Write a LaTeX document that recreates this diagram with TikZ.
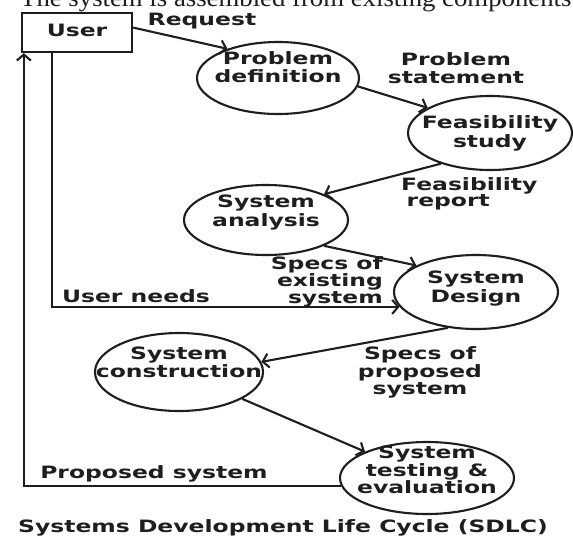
\documentclass[tikz,border=0pt]{standalone}
\usepackage{fontspec}
\usepackage{graphicx}
\setmainfont{Liberation Serif}
\newfontfamily\dvfont{DejaVu Sans}
\usetikzlibrary{shapes.geometric,arrows.meta,calc}
\definecolor{ink}{HTML}{1E1E1E}
% label helpers: #1 = baselineskip, #2 = column alignment, #3 = text
\newcommand{\dtxt}[3]{{\dvfont\bfseries\fontsize{17}{#1}\selectfont\scalebox{1.38}[1]{\begin{tabular}{@{}#2@{}}#3\end{tabular}}}}
\tikzset{
  ell/.style={draw=ink, ellipse, line width=2.1pt, inner sep=0pt},
  lbl/.style={inner sep=0pt, text=ink},
  arr/.style={draw=ink, line width=2.1pt, -{Straight Barb[length=6pt,width=14pt]}},
  userbox/.style={draw=ink, line width=2.3pt, minimum width=110pt, minimum height=39pt, inner sep=0pt, text=ink}
}
\begin{document}
\begin{tikzpicture}[x=1pt,y=-1pt]
\useasboundingbox (0,0) rectangle (573,539);
\fill[white] (0,0) rectangle (573,539);

% caption at the top, cut by the upper edge as in the reference
\node[anchor=base west, inner sep=0pt, text=ink] (toptxt) at (20,6.5)
  {\fontsize{25}{25}\selectfont\scalebox{1.07}[1]{The system is assembled from existing components}};

% user box
\node[userbox] (user) at (77,32.5) {\dtxt{18}{c}{User}};

% process ellipses
\node[ell, minimum width=162pt, minimum height=72pt] (pd) at (278,78) {};
\node[ell, minimum width=164pt, minimum height=74pt] (fs) at (490,133) {};
\node[ell, minimum width=164pt, minimum height=70pt] (sa) at (266,220) {};
\node[ell, minimum width=164pt, minimum height=74pt] (sd) at (476,292) {};
\node[ell, minimum width=168pt, minimum height=78pt] (sc) at (179,372) {};
\node[ell, minimum width=174pt, minimum height=72pt] (st) at (427,478) {};

% texts inside ellipses
\node[lbl] (pdt) at (278,70) {\dtxt{17}{c}{Problem\\definition}};
\node[lbl] (fst) at (490,134) {\dtxt{19}{c}{Feasibility\\study}};
\node[lbl] (sat) at (266,213) {\dtxt{19}{c}{System\\analysis}};
\node[lbl] (sdt) at (476,289) {\dtxt{19}{c}{System\\Design}};
\node[lbl] (sct) at (179,365) {\dtxt{17}{c}{System\\construction}};
\node[lbl] (stt) at (427,472) {\dtxt{15}{c}{System\\testing \&\\evaluation}};

% flow labels
\node[lbl] (req) at (202,22) {\dtxt{18}{c}{Request}};
\node[lbl] (pst) at (456,70.5) {\dtxt{18}{c}{Problem\\statement}};
\node[lbl, anchor=west] (frp) at (401,194.5) {\dtxt{15}{l}{Feasibility\\\hspace*{4pt}report}};
\node[lbl, anchor=east] (sex) at (383,282) {\dtxt{15}{r}{Specs of\\existing\\system}};
\node[lbl] (uneeds) at (136,298.5) {\dtxt{18}{c}{User needs}};
\node[lbl] (spr) at (420,373) {\dtxt{16.5}{c}{Specs of\\proposed\\system}};
\node[lbl] (psys) at (154,474.5) {\dtxt{18}{c}{Proposed system}};
\node[lbl] (title) at (283,529) {\dtxt{18}{c}{Systems Development Life Cycle (SDLC)}};

% connectors
\draw[arr] (user.5) -- (pd.150);
\draw[arr] (pd.-6) -- (fs.158);
\draw[arr] (fs.212) -- (sa.24);
\draw[arr] (sa.-24) -- (sd.156);
\draw[arr] ([xshift=31pt]user.south west) |- (sd.191);
\draw[arr] (sd.232) -- (sc.7);
\draw[arr] (sc.-23) -- (st.157);
\draw[arr] (st.185) -| ([xshift=3pt]user.south west);
\end{tikzpicture}
\end{document}
